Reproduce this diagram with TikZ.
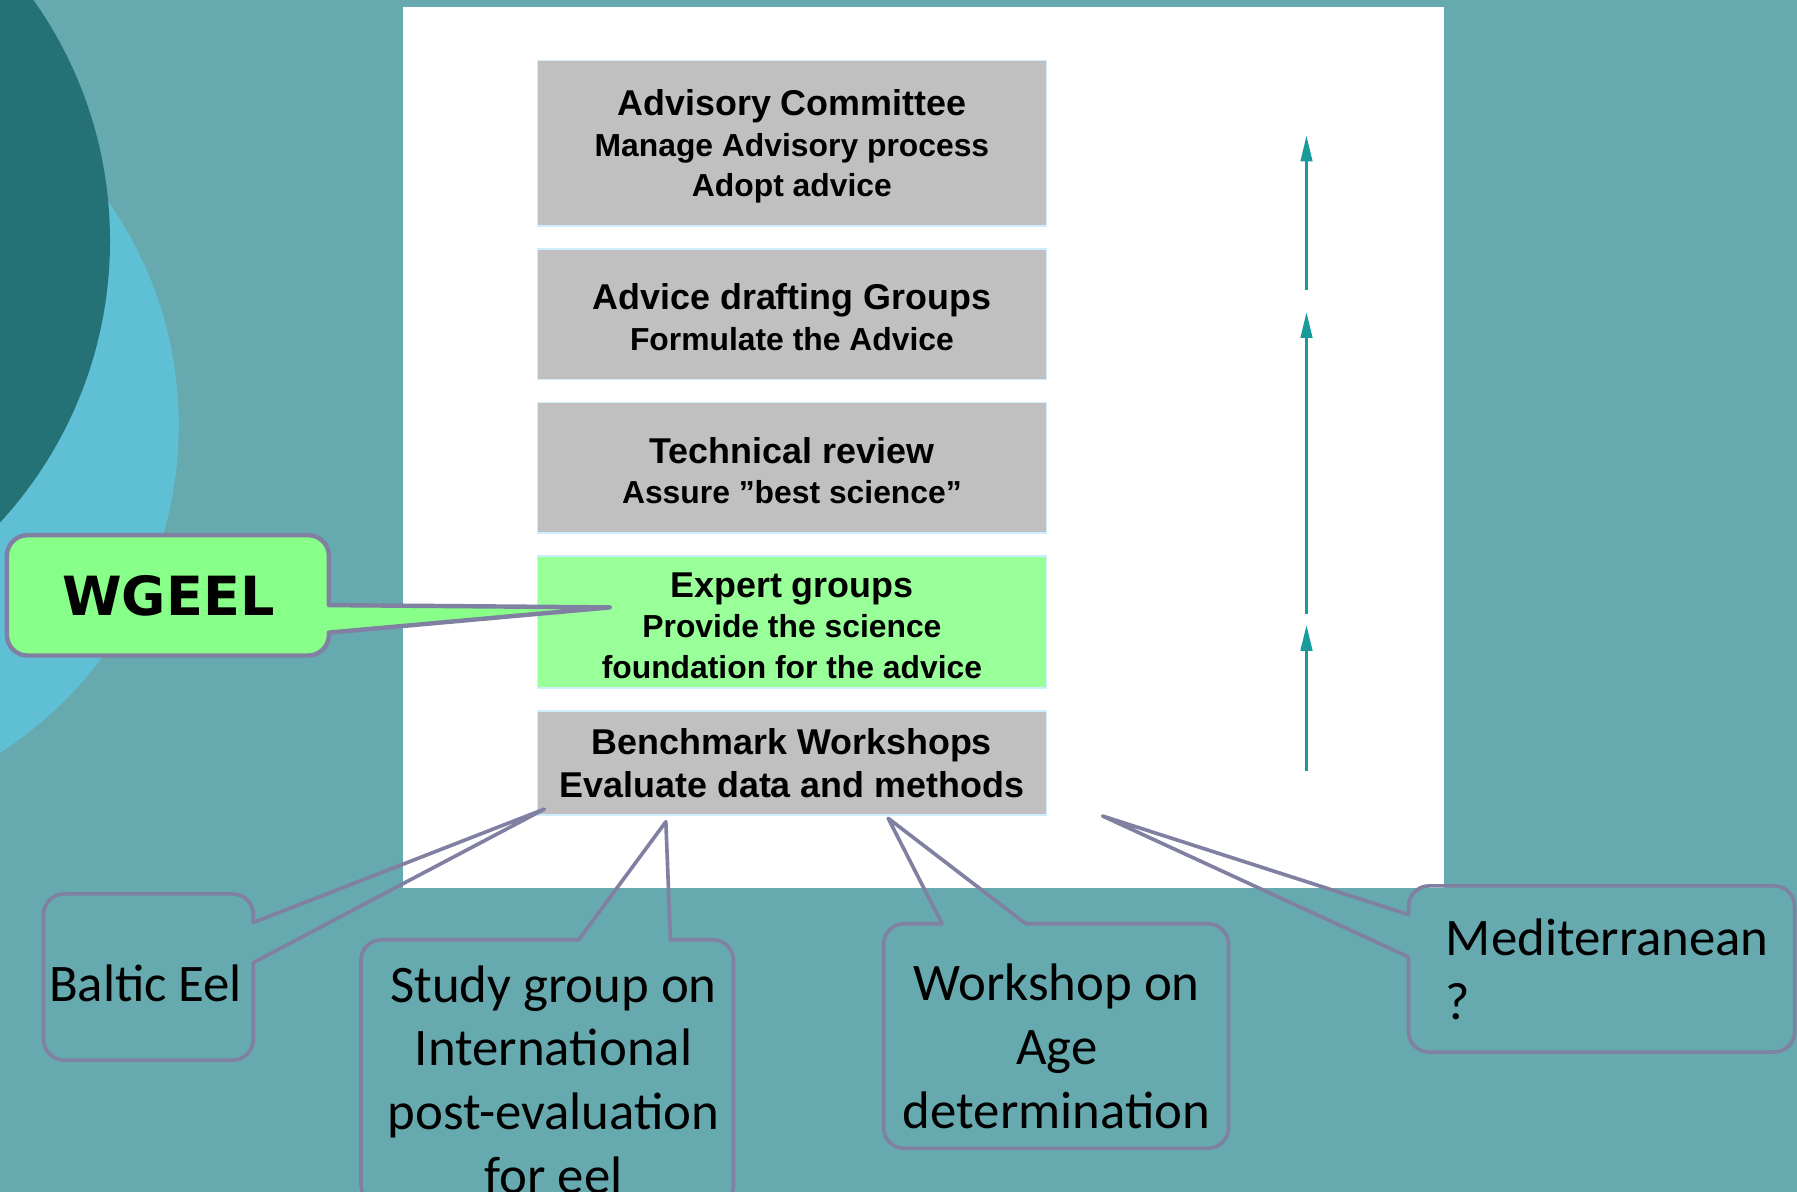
\documentclass[tikz,border=0pt]{standalone}
\usepackage{fontspec}
\setmainfont{Liberation Sans}
\newfontfamily\calloutfont{Carlito}
\newfontfamily\tagfont{DejaVu Sans}
\usetikzlibrary{positioning,arrows.meta}

\definecolor{bgteal}{RGB}{102,169,174}
\definecolor{darkteal}{RGB}{36,114,118}
\definecolor{lightblue}{RGB}{95,191,213}
\definecolor{stagegray}{RGB}{192,192,192}
\definecolor{stageline}{RGB}{204,238,255}
\definecolor{expertgreen}{RGB}{153,255,153}
\definecolor{wgeelgreen}{RGB}{136,255,136}
\definecolor{calloutline}{RGB}{128,128,162}
\definecolor{arrowteal}{RGB}{25,155,155}

\newcommand\stagetitle[1]{{\fontsize{8.9}{10.2}\selectfont\rule{0pt}{8pt}#1}}

\begin{document}
\begin{tikzpicture}[x=0.01cm,y=-0.01cm,
	stage/.style={draw=stageline,line width=0.4pt,fill=stagegray,minimum width=4.44cm,outer sep=0pt,inner sep=0pt,align=center,font=\fontsize{7.9}{10}\selectfont\bfseries},
	flowarrow/.style={draw=arrowteal,line width=0.85pt,-{Triangle[length=6.5pt,width=2.8pt]}},
	callout/.style={draw=calloutline,line width=0.9pt,line join=round},
	callouttext/.style={inner sep=0pt,align=center,font=\calloutfont\fontsize{13.1}{15.8}\selectfont}]
	\useasboundingbox (0,0) rectangle (1568,1040);
	\clip (0,0) rectangle (1568,1040);
	% background
	\fill[bgteal] (0,0) rectangle (1568,1040);
	\fill[lightblue] (-184,371) circle[radius=340];
	\fill[darkteal] (-267,210) circle[radius=363];
	\fill[white] (352,6) rectangle (1260,775);

	% stages
	\node[stage,minimum height=1.44cm] (advisory) at (691,125) {\stagetitle{Advisory Committee}\\Manage Advisory process\\Adopt advice};
	\node[stage,minimum height=1.14cm,below=0.2cm of advisory] (drafting) {\stagetitle{Advice drafting Groups}\\Formulate the Advice};
	\node[stage,minimum height=1.14cm,below=0.2cm of drafting] (review) {\stagetitle{Technical review}\\Assure ”best science”};
	\node[stage,fill=expertgreen,minimum height=1.15cm,below=0.2cm of review] (expert) {\stagetitle{Expert groups}\\Provide the science\\foundation for the advice};
	\node[stage,minimum height=0.91cm,below=0.2cm of expert,font=\fontsize{8.9}{10.5}\selectfont\bfseries] (benchmark) {Benchmark Workshops\\Evaluate data and methods};

	% flow arrows
	\foreach \n/\lo/\hi in {1/253/118,2/536/272,3/673/545} {
		\coordinate (flowlo\n) at (1140,\lo);
		\coordinate (flowhi\n) at (1140,\hi);
		\draw[flowarrow] (flowlo\n) -- (flowhi\n);
	}

	% callouts
	\coordinate (wgeelTip) at (532,530);
	\coordinate (balticTip) at (475,706);
	\coordinate (studyTip) at (581,717);
	\coordinate (workshopTip) at (775,714);
	\coordinate (mediTip) at (962,712);

	\draw[callout,fill=wgeelgreen,line width=1.1pt] (287,528) -- (287,485) arc[start angle=0,end angle=-90,radius=18]
		-- (24,467) arc[start angle=-90,end angle=-180,radius=18]
		-- (6,554) arc[start angle=180,end angle=90,radius=18]
		-- (269,572) arc[start angle=90,end angle=0,radius=18]
		-- (287,552) -- (wgeelTip) -- cycle;
	\node[inner sep=0pt,font=\tagfont\fontsize{13.4}{16}\selectfont\bfseries] (wgeel) at (147,520) {WGEEL};

	\draw[callout] (221,805) -- (221,798) arc[start angle=0,end angle=-90,radius=18]
		-- (56,780) arc[start angle=-90,end angle=-180,radius=18]
		-- (38,907) arc[start angle=180,end angle=90,radius=18]
		-- (203,925) arc[start angle=90,end angle=0,radius=18]
		-- (221,840) -- (balticTip) -- cycle;
	\node[callouttext,anchor=base] (baltic) at (127,874) {Baltic Eel};

	\draw[callout] (505,820) -- (333,820) arc[start angle=-90,end angle=-180,radius=18]
		-- (315,1034) arc[start angle=180,end angle=90,radius=18]
		-- (622,1052) arc[start angle=90,end angle=0,radius=18]
		-- (640,838) arc[start angle=0,end angle=-90,radius=18]
		-- (585,820) -- (studyTip) -- cycle;
	\node[callouttext] (study) at (483,942) {Study group on\\International\\post-evaluation\\for eel};

	\draw[callout] (822,806) -- (789,806) arc[start angle=-90,end angle=-180,radius=18]
		-- (771,984) arc[start angle=180,end angle=90,radius=18]
		-- (1054,1002) arc[start angle=90,end angle=0,radius=18]
		-- (1072,824) arc[start angle=0,end angle=-90,radius=18]
		-- (895,806) -- (workshopTip) -- cycle;
	\node[callouttext] (workshop) at (922,913) {Workshop on\\Age\\determination};

	\draw[callout] (1229,835) -- (1229,900) arc[start angle=180,end angle=90,radius=18]
		-- (1548,918) arc[start angle=90,end angle=0,radius=18]
		-- (1566,791) arc[start angle=0,end angle=-90,radius=18]
		-- (1247,773) arc[start angle=-90,end angle=-180,radius=18]
		-- (1229,798) -- (mediTip) -- cycle;
	\node[callouttext,align=left,anchor=west] (medit) at (1261,846) {Mediterranean\\?};
\end{tikzpicture}
\end{document}
